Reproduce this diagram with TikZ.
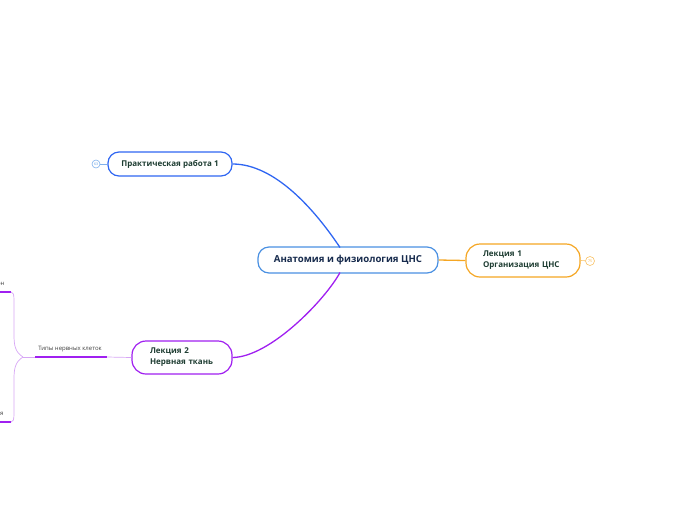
\documentclass[tikz,border=0pt]{standalone}
\usepackage{fontspec}
\setmainfont{Open Sans}
\definecolor{mainblue}{HTML}{4A90E2}
\definecolor{linkblue}{HTML}{2F66F2}
\definecolor{lorange}{HTML}{F5A623}
\definecolor{lpurple}{HTML}{A020F0}
\definecolor{softpurple}{HTML}{D7A6F5}
\definecolor{textnavy}{HTML}{172B4D}
\definecolor{textgreen}{HTML}{1E3D32}
\begin{document}
\begin{tikzpicture}[x=1pt,y=-1pt,
  topic/.style={draw,line width=1.2pt,rounded corners=11pt,fill=white,
    font=\bfseries\fontsize{8}{11}\selectfont,text=textgreen,align=left},
  badge/.style={draw,circle,line width=0.6pt,inner sep=0pt,minimum size=8pt,
    font=\fontsize{3.5}{4}\selectfont},
  sub/.style={font=\fontsize{6}{7}\selectfont,text=black!75}]
\clip (0,0) rectangle (696,520);
% central topic
\node[topic,draw=mainblue,minimum width=180pt,minimum height=26pt,
  font=\bfseries\fontsize{9.6}{12}\selectfont,text=textnavy] (main) at (348,260) {Анатомия и физиология ЦНС};
% branches
\node[topic,draw=linkblue,minimum width=124pt,minimum height=24pt] (prak) at (170,164) {Практическая работа 1};
\node[topic,draw=lorange,minimum width=114pt,minimum height=33pt,
  text width=80pt,rounded corners=14pt] (lek1) at (523,260.5) {Лекция 1\\Организация ЦНС};
\node[topic,draw=lpurple,minimum width=100pt,minimum height=33pt,
  text width=64pt,rounded corners=14pt] (lek2) at (182,357.5) {Лекция 2\\Нервная ткань};
\node[badge,draw=mainblue!70,text=mainblue] (b1) at (96,164) {63};
\node[badge,draw=lorange!70,text=lorange,minimum size=9pt] (b2) at (590,261) {75};
\draw[mainblue!70,line width=0.6pt] (b1) -- (prak.west);
\draw[lorange!70,line width=0.6pt] (lek1.east) -- (b2);
% connectors
\coordinate (mtop) at (340,247.5);
\coordinate (mbot) at (340,272.5);
\draw[linkblue,line width=1.3pt] (mtop) .. controls (315,210) and (275,164) .. (prak.east);
\draw[lorange,line width=1.3pt] (main.east) -- (lek1.west);
\draw[lpurple,line width=1.3pt] (mbot) .. controls (325,300) and (270,357) .. (lek2.east);
% subtopics of lecture 2
\node[sub] (tipy) at (70,349) {Типы нервных клеток};
\coordinate (tl) at (35,357);
\coordinate (tr) at (107,357);
\coordinate (fork) at (23,357);
\draw[lpurple,line width=1.3pt] (tl) -- (tr);
\draw[softpurple,line width=0.7pt] (tr) -- (lek2.west);
\draw[softpurple,line width=0.7pt] (fork) -- (tl);
\node[sub,anchor=south east] (neuron) at (8,290) {Нейрон};
\node[sub,anchor=south east] (glia) at (7,420) {Нейроглия};
\coordinate (n1) at (11,292);
\coordinate (g1) at (11,422);
\draw[lpurple,line width=1.3pt] (0,292) -- (n1);
\draw[lpurple,line width=1.3pt] (0,422) -- (g1);
\draw[softpurple,line width=0.7pt] (fork) .. controls (15,352) and (14,345) .. (14,335)
  -- (14,300) .. controls (14,294) and (13,292) .. (n1);
\draw[softpurple,line width=0.7pt] (fork) .. controls (15,362) and (14,369) .. (14,379)
  -- (14,414) .. controls (14,420) and (13,422) .. (g1);
\end{tikzpicture}
\end{document}
